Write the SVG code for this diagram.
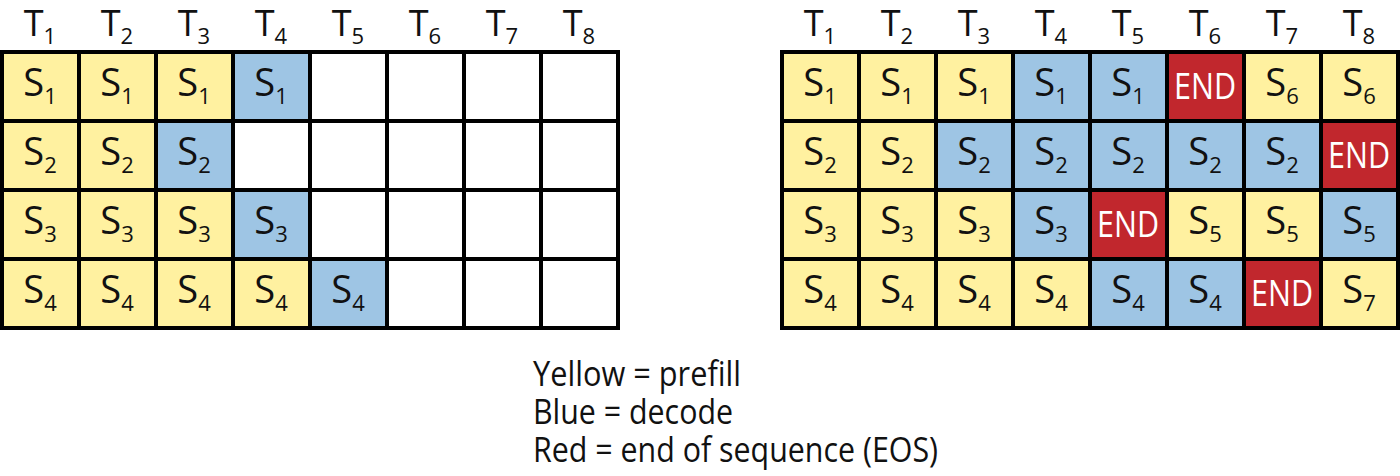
<svg xmlns="http://www.w3.org/2000/svg" width="1400" height="476" viewBox="0 0 1400 476">
<style>
.y{fill:#fff1a0}.b{fill:#9ec5e4}.r{fill:#c1272d}.w{fill:#fff}
rect{stroke:#000;stroke-width:4}
text{font-family:"Open Sans","Liberation Sans",sans-serif;fill:#111}
.s{font-size:38px;text-anchor:middle}
.t{font-size:36px;text-anchor:middle}
.e{font-size:36px;text-anchor:middle;fill:#fff}
.sub{font-size:22px}
.lg{font-size:34px}
</style>
<g id="left-grid">
<g id="L-head">
<text class="t" x="40" y="36">T<tspan class="sub" dy="8">1</tspan></text>
<text class="t" x="117" y="36">T<tspan class="sub" dy="8">2</tspan></text>
<text class="t" x="194" y="36">T<tspan class="sub" dy="8">3</tspan></text>
<text class="t" x="271" y="36">T<tspan class="sub" dy="8">4</tspan></text>
<text class="t" x="348" y="36">T<tspan class="sub" dy="8">5</tspan></text>
<text class="t" x="425" y="36">T<tspan class="sub" dy="8">6</tspan></text>
<text class="t" x="502" y="36">T<tspan class="sub" dy="8">7</tspan></text>
<text class="t" x="579" y="36">T<tspan class="sub" dy="8">8</tspan></text>
</g>
<g id="L-r1">
<rect class="y" x="2" y="52" width="77" height="69"/><rect class="y" x="79" y="52" width="77" height="69"/><rect class="y" x="156" y="52" width="77" height="69"/><rect class="b" x="233" y="52" width="77" height="69"/><rect class="w" x="310" y="52" width="77" height="69"/><rect class="w" x="387" y="52" width="77" height="69"/><rect class="w" x="464" y="52" width="77" height="69"/><rect class="w" x="541" y="52" width="77" height="69"/>
</g>
<g id="L-r2">
<rect class="y" x="2" y="121" width="77" height="69"/><rect class="y" x="79" y="121" width="77" height="69"/><rect class="b" x="156" y="121" width="77" height="69"/><rect class="w" x="233" y="121" width="77" height="69"/><rect class="w" x="310" y="121" width="77" height="69"/><rect class="w" x="387" y="121" width="77" height="69"/><rect class="w" x="464" y="121" width="77" height="69"/><rect class="w" x="541" y="121" width="77" height="69"/>
</g>
<g id="L-r3">
<rect class="y" x="2" y="190" width="77" height="69"/><rect class="y" x="79" y="190" width="77" height="69"/><rect class="y" x="156" y="190" width="77" height="69"/><rect class="b" x="233" y="190" width="77" height="69"/><rect class="w" x="310" y="190" width="77" height="69"/><rect class="w" x="387" y="190" width="77" height="69"/><rect class="w" x="464" y="190" width="77" height="69"/><rect class="w" x="541" y="190" width="77" height="69"/>
</g>
<g id="L-r4">
<rect class="y" x="2" y="259" width="77" height="69"/><rect class="y" x="79" y="259" width="77" height="69"/><rect class="y" x="156" y="259" width="77" height="69"/><rect class="y" x="233" y="259" width="77" height="69"/><rect class="b" x="310" y="259" width="77" height="69"/><rect class="w" x="387" y="259" width="77" height="69"/><rect class="w" x="464" y="259" width="77" height="69"/><rect class="w" x="541" y="259" width="77" height="69"/>
</g>
<g id="L-text">
<text class="s" x="40" y="96">S<tspan class="sub" dy="8">1</tspan></text><text class="s" x="117" y="96">S<tspan class="sub" dy="8">1</tspan></text><text class="s" x="194" y="96">S<tspan class="sub" dy="8">1</tspan></text><text class="s" x="271" y="96">S<tspan class="sub" dy="8">1</tspan></text>
<text class="s" x="40" y="165">S<tspan class="sub" dy="8">2</tspan></text><text class="s" x="117" y="165">S<tspan class="sub" dy="8">2</tspan></text><text class="s" x="194" y="165">S<tspan class="sub" dy="8">2</tspan></text>
<text class="s" x="40" y="234">S<tspan class="sub" dy="8">3</tspan></text><text class="s" x="117" y="234">S<tspan class="sub" dy="8">3</tspan></text><text class="s" x="194" y="234">S<tspan class="sub" dy="8">3</tspan></text><text class="s" x="271" y="234">S<tspan class="sub" dy="8">3</tspan></text>
<text class="s" x="40" y="303">S<tspan class="sub" dy="8">4</tspan></text><text class="s" x="117" y="303">S<tspan class="sub" dy="8">4</tspan></text><text class="s" x="194" y="303">S<tspan class="sub" dy="8">4</tspan></text><text class="s" x="271" y="303">S<tspan class="sub" dy="8">4</tspan></text><text class="s" x="348" y="303">S<tspan class="sub" dy="8">4</tspan></text>
</g>
</g>
<g id="right-grid">
<g id="R-head">
<text class="t" x="820" y="36">T<tspan class="sub" dy="8">1</tspan></text>
<text class="t" x="897" y="36">T<tspan class="sub" dy="8">2</tspan></text>
<text class="t" x="974" y="36">T<tspan class="sub" dy="8">3</tspan></text>
<text class="t" x="1051" y="36">T<tspan class="sub" dy="8">4</tspan></text>
<text class="t" x="1128" y="36">T<tspan class="sub" dy="8">5</tspan></text>
<text class="t" x="1205" y="36">T<tspan class="sub" dy="8">6</tspan></text>
<text class="t" x="1282" y="36">T<tspan class="sub" dy="8">7</tspan></text>
<text class="t" x="1359" y="36">T<tspan class="sub" dy="8">8</tspan></text>
</g>
<g id="R-r1">
<rect class="y" x="782" y="52" width="77" height="69"/><rect class="y" x="859" y="52" width="77" height="69"/><rect class="y" x="936" y="52" width="77" height="69"/><rect class="b" x="1013" y="52" width="77" height="69"/><rect class="b" x="1090" y="52" width="77" height="69"/><rect class="r" x="1167" y="52" width="77" height="69"/><rect class="y" x="1244" y="52" width="77" height="69"/><rect class="y" x="1321" y="52" width="77" height="69"/>
</g>
<g id="R-r2">
<rect class="y" x="782" y="121" width="77" height="69"/><rect class="y" x="859" y="121" width="77" height="69"/><rect class="b" x="936" y="121" width="77" height="69"/><rect class="b" x="1013" y="121" width="77" height="69"/><rect class="b" x="1090" y="121" width="77" height="69"/><rect class="b" x="1167" y="121" width="77" height="69"/><rect class="b" x="1244" y="121" width="77" height="69"/><rect class="r" x="1321" y="121" width="77" height="69"/>
</g>
<g id="R-r3">
<rect class="y" x="782" y="190" width="77" height="69"/><rect class="y" x="859" y="190" width="77" height="69"/><rect class="y" x="936" y="190" width="77" height="69"/><rect class="b" x="1013" y="190" width="77" height="69"/><rect class="r" x="1090" y="190" width="77" height="69"/><rect class="y" x="1167" y="190" width="77" height="69"/><rect class="y" x="1244" y="190" width="77" height="69"/><rect class="b" x="1321" y="190" width="77" height="69"/>
</g>
<g id="R-r4">
<rect class="y" x="782" y="259" width="77" height="69"/><rect class="y" x="859" y="259" width="77" height="69"/><rect class="y" x="936" y="259" width="77" height="69"/><rect class="y" x="1013" y="259" width="77" height="69"/><rect class="b" x="1090" y="259" width="77" height="69"/><rect class="b" x="1167" y="259" width="77" height="69"/><rect class="r" x="1244" y="259" width="77" height="69"/><rect class="y" x="1321" y="259" width="77" height="69"/>
</g>
<g id="R-text">
<text class="s" x="820" y="96">S<tspan class="sub" dy="8">1</tspan></text><text class="s" x="897" y="96">S<tspan class="sub" dy="8">1</tspan></text><text class="s" x="974" y="96">S<tspan class="sub" dy="8">1</tspan></text><text class="s" x="1051" y="96">S<tspan class="sub" dy="8">1</tspan></text><text class="s" x="1128" y="96">S<tspan class="sub" dy="8">1</tspan></text><text class="e" x="1205" y="99" textLength="62" lengthAdjust="spacingAndGlyphs">END</text><text class="s" x="1282" y="96">S<tspan class="sub" dy="8">6</tspan></text><text class="s" x="1359" y="96">S<tspan class="sub" dy="8">6</tspan></text>
<text class="s" x="820" y="165">S<tspan class="sub" dy="8">2</tspan></text><text class="s" x="897" y="165">S<tspan class="sub" dy="8">2</tspan></text><text class="s" x="974" y="165">S<tspan class="sub" dy="8">2</tspan></text><text class="s" x="1051" y="165">S<tspan class="sub" dy="8">2</tspan></text><text class="s" x="1128" y="165">S<tspan class="sub" dy="8">2</tspan></text><text class="s" x="1205" y="165">S<tspan class="sub" dy="8">2</tspan></text><text class="s" x="1282" y="165">S<tspan class="sub" dy="8">2</tspan></text><text class="e" x="1359" y="168" textLength="62" lengthAdjust="spacingAndGlyphs">END</text>
<text class="s" x="820" y="234">S<tspan class="sub" dy="8">3</tspan></text><text class="s" x="897" y="234">S<tspan class="sub" dy="8">3</tspan></text><text class="s" x="974" y="234">S<tspan class="sub" dy="8">3</tspan></text><text class="s" x="1051" y="234">S<tspan class="sub" dy="8">3</tspan></text><text class="e" x="1128" y="237" textLength="62" lengthAdjust="spacingAndGlyphs">END</text><text class="s" x="1205" y="234">S<tspan class="sub" dy="8">5</tspan></text><text class="s" x="1282" y="234">S<tspan class="sub" dy="8">5</tspan></text><text class="s" x="1359" y="234">S<tspan class="sub" dy="8">5</tspan></text>
<text class="s" x="820" y="303">S<tspan class="sub" dy="8">4</tspan></text><text class="s" x="897" y="303">S<tspan class="sub" dy="8">4</tspan></text><text class="s" x="974" y="303">S<tspan class="sub" dy="8">4</tspan></text><text class="s" x="1051" y="303">S<tspan class="sub" dy="8">4</tspan></text><text class="s" x="1128" y="303">S<tspan class="sub" dy="8">4</tspan></text><text class="s" x="1205" y="303">S<tspan class="sub" dy="8">4</tspan></text><text class="e" x="1282" y="306" textLength="62" lengthAdjust="spacingAndGlyphs">END</text><text class="s" x="1359" y="303">S<tspan class="sub" dy="8">7</tspan></text>
</g>
</g>
<g id="legend">
<text class="lg" x="533" y="386" textLength="208" lengthAdjust="spacingAndGlyphs">Yellow = prefill</text>
<text class="lg" x="533" y="424" textLength="200" lengthAdjust="spacingAndGlyphs">Blue = decode</text>
<text class="lg" x="533" y="462" textLength="405" lengthAdjust="spacingAndGlyphs">Red = end of sequence (EOS)</text>
</g>
</svg>
